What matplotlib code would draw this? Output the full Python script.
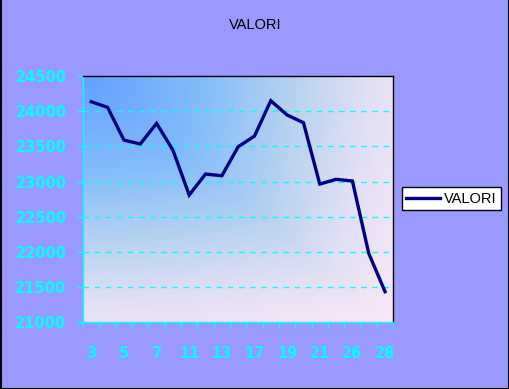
import numpy as np
import matplotlib
matplotlib.use("Agg")
import matplotlib.pyplot as plt
from matplotlib.colors import LinearSegmentedColormap
from matplotlib.lines import Line2D

# Dati
giorni = ["3", "4", "5", "6", "7", "10", "11", "12", "13", "14",
          "17", "18", "19", "20", "21", "24", "26", "27", "28"]
valori = [24135, 24055, 23590, 23534, 23828, 23448, 22809, 23107, 23083, 23495,
          23647, 24149, 23946, 23837, 22965, 23032, 23008, 21980, 21435]
y_ticks = [21000, 21500, 22000, 22500, 23000, 23500, 24000, 24500]

sfondo = "#9999FF"
ciano = "#00FFFF"

fig = plt.figure(figsize=(5.1, 3.89), dpi=100, facecolor=sfondo)
ax = fig.add_axes([0.163, 0.1715, 0.608, 0.633])
ax.set_facecolor(sfondo)

n = len(giorni)
x = np.arange(n) + 0.5

# sfumatura dall'angolo in alto a sinistra
gx, gy = np.meshgrid(np.linspace(0, 1, 300), np.linspace(0, 1, 300))
t = np.maximum(gx, gy) * 0.55 + np.sqrt((gx**2 + gy**2) / 2) * 0.45
cmap = LinearSegmentedColormap.from_list(
    "grad", [(0, "#62A0FF"), (0.35, "#86BEFA"), (0.6, "#B9D3F0"),
             (0.8, "#E2E0F4"), (1, "#FBE7F7")])
ax.imshow(t, cmap=cmap, extent=[0, n, 21000, 24500], aspect="auto",
          zorder=0, origin="upper", vmin=0, vmax=1)

for yv in y_ticks[1:-1]:
    ax.axhline(yv, color=ciano, lw=1, dashes=(4, 4), zorder=1)

ax.plot(x, valori, color="#000080", lw=2.4, zorder=3, solid_joinstyle="miter")

ax.set_xlim(0, n)
ax.set_ylim(21000, 24500)

ax.set_yticks(y_ticks)
ax.set_yticklabels([str(v) for v in y_ticks])
ax.tick_params(axis="y", colors=ciano, length=4.5, width=1, pad=7.5,
               labelsize=10.5, labelcolor=ciano)
for lab in ax.get_yticklabels():
    lab.set_fontweight("bold")

ax.set_xticks(np.arange(n + 1))
ax.set_xticklabels([])
ax.tick_params(axis="x", which="major", colors=ciano, length=4.5, width=1)
ax.set_xticks(x[::2], minor=True)
ax.set_xticklabels(giorni[::2], minor=True)
ax.tick_params(axis="x", which="minor", length=0, pad=17, labelsize=10.5,
               labelcolor=ciano)
for lab in ax.get_xticklabels(minor=True):
    lab.set_fontweight("bold")

ax.spines["left"].set_color(ciano)
ax.spines["bottom"].set_color(ciano)
ax.spines["top"].set_color("black")
ax.spines["right"].set_color("black")
for s in ax.spines.values():
    s.set_linewidth(1)
    s.set_zorder(4)

fig.text(0.5, 0.935, "VALORI", ha="center", va="center",
         fontsize=10.5, family="Liberation Sans", color="black")

handle = Line2D([], [], color="#000080", lw=2.4)
leg = fig.legend([handle], ["VALORI"], loc="center",
                 bbox_to_anchor=(0.885, 0.489), frameon=True, fancybox=False,
                 edgecolor="black", facecolor="white", framealpha=1,
                 prop={"family": "Liberation Sans", "size": 10.5},
                 handlelength=2.3, handletextpad=0.3, borderpad=0.3)
leg.get_frame().set_linewidth(1)

# bordo della figura
fig.add_artist(Line2D([0.001, 0.001], [0, 1], color="black", lw=1.5))
fig.add_artist(Line2D([0.999, 0.999], [0, 1], color="black", lw=1.5))
fig.add_artist(Line2D([0, 1], [0.001, 0.001], color="black", lw=1.5))

fig.savefig("out.png", dpi=100, facecolor=sfondo)
